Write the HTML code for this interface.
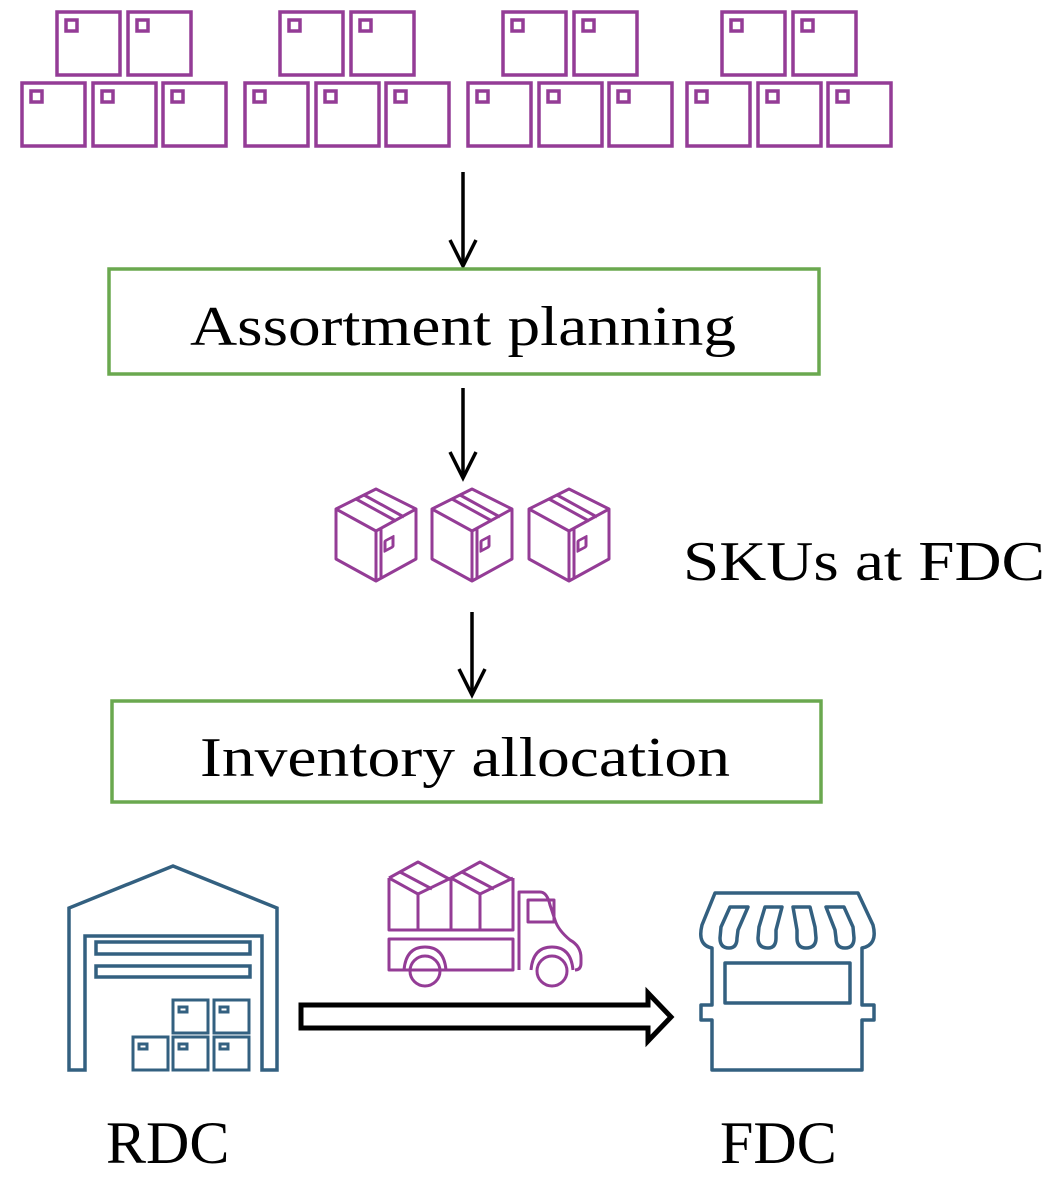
<!DOCTYPE html>
<html><head><meta charset="utf-8"><style>
html,body{margin:0;padding:0;background:#fff;}
svg{display:block;}
text{font-family:"Liberation Serif",serif;fill:#000;}
</style></head><body>
<svg width="1056" height="1184" viewBox="0 0 1056 1184" xmlns="http://www.w3.org/2000/svg">
<defs>
<g id="pb" fill="none" stroke="#943c96" stroke-width="3.5">
  <rect x="0" y="0" width="63" height="63"/>
  <rect x="9" y="8" width="11" height="11"/>
</g>
<g id="grp">
  <use href="#pb" x="57" y="12"/>
  <use href="#pb" x="128" y="12"/>
  <use href="#pb" x="22" y="83"/>
  <use href="#pb" x="93" y="83"/>
  <use href="#pb" x="163" y="83"/>
</g>
<g id="cube" fill="none" stroke="#943c96" stroke-width="3" stroke-linejoin="round">
  <path d="M0,20 L40,0 L80,20 L80,70 L40,92 L0,70 Z"/>
  <path d="M0,20 L40,42 L80,20"/>
  <path d="M40,42 L40,92"/>
  <path d="M45,40 L45,90"/>
  <path d="M20,10 L60,32"/>
  <path d="M28,6 L68,28"/>
  <rect x="49" y="50" width="8" height="10" transform="skewY(-28) translate(0,28)"/>
</g>
<g id="wbox" fill="none" stroke="#336080" stroke-width="3">
  <rect x="0" y="0" width="35" height="33"/>
  <rect x="6" y="7" width="8" height="5"/>
</g>
</defs>

<use href="#grp" x="0" y="0"/>
<use href="#grp" x="223" y="0"/>
<use href="#grp" x="446" y="0"/>
<use href="#grp" x="665" y="0"/>

<g stroke="#000" stroke-width="3.5" fill="none">
  <line x1="463" y1="172" x2="463" y2="266"/>
  <path d="M450,240 L463,266 L476,240"/>
  <line x1="463" y1="388" x2="463" y2="478"/>
  <path d="M450,452 L463,478 L476,452"/>
  <line x1="472" y1="612" x2="472" y2="695"/>
  <path d="M459,669 L472,695 L485,669"/>
</g>

<rect x="109" y="269" width="710" height="105" fill="none" stroke="#6aa84f" stroke-width="3.5"/>
<text x="190" y="345" font-size="56" textLength="546" lengthAdjust="spacingAndGlyphs">Assortment planning</text>

<use href="#cube" x="336" y="489"/>
<use href="#cube" x="432" y="489"/>
<use href="#cube" x="529" y="489"/>
<text x="683" y="580" font-size="56" textLength="362" lengthAdjust="spacingAndGlyphs">SKUs at FDC</text>

<rect x="112" y="701" width="709" height="101" fill="none" stroke="#6aa84f" stroke-width="3.5"/>
<text x="200" y="776" font-size="56" textLength="530" lengthAdjust="spacingAndGlyphs">Inventory allocation</text>

<g fill="none" stroke="#336080" stroke-width="3.5">
  <path d="M69,1070 L69,908 L173,866 L277,908 L277,1070 L262,1070 L262,936 L85,936 L85,1070 Z"/>
  <rect x="96" y="942" width="154" height="12"/>
  <rect x="96" y="966" width="154" height="11"/>
</g>
<use href="#wbox" x="173" y="1000"/>
<use href="#wbox" x="214" y="1000"/>
<use href="#wbox" x="133" y="1037"/>
<use href="#wbox" x="173" y="1037"/>
<use href="#wbox" x="214" y="1037"/>

<path d="M301,1005 L648,1005 L648,993 L671,1017 L648,1041 L648,1028 L301,1028 Z" fill="#fff" stroke="#000" stroke-width="5"/>

<g fill="none" stroke="#943c96" stroke-width="3" stroke-linejoin="round">
  <path d="M389,878 L389,930 L513,930 L513,878"/>
  <path d="M389,878 L418,862 L451,880 L451,930"/>
  <path d="M389,878 L418,894 L418,930"/>
  <path d="M418,894 L451,878"/>
  <path d="M451,878 L480,862 L513,880"/>
  <path d="M451,878 L480,894 L480,930"/>
  <path d="M480,894 L513,878"/>
  <path d="M400,872 L432,889"/><path d="M462,872 L494,889"/>
  <rect x="389" y="939" width="124" height="31"/>
  <path d="M519,970 L519,892 L540,892 Q547,892 550,905 L555,920 Q558,930 570,940 Q581,946 581,958 L581,963 Q581,970 575,970"/>
  <rect x="528" y="900" width="26" height="22"/>
  <circle cx="425" cy="971" r="15"/>
  <circle cx="552" cy="971" r="15"/>
  <path d="M404,970 Q406,947 425,947 Q444,947 446,970"/>
  <path d="M531,970 Q533,947 552,947 Q571,947 573,970"/>
</g>

<g fill="none" stroke="#336080" stroke-width="3.5" stroke-linejoin="round">
  <path d="M715,893 L858,893 L873,925 Q878,945 862,948 L862,1005 L874,1005 L874,1020 L862,1020 L862,1070 L712,1070 L712,1020 L701,1020 L701,1005 L712,1005 L712,948 Q697,945 702,925 Z"/>
  <path d="M730,907 L748,907 L738,930 L737,938 Q737,948 729,948 Q720,948 720,938 L721,927 Z"/>
  <path d="M765,907 L782,907 L776,930 L776,938 Q776,948 768,948 Q758,948 758,938 L759,927 Z"/>
  <path d="M793,907 L810,907 L815,927 L816,938 Q816,948 806,948 Q797,948 797,938 L797,930 Z"/>
  <path d="M826,907 L844,907 L853,927 L854,938 Q854,948 845,948 Q836,948 836,938 L835,930 Z"/>
  <rect x="725" y="963" width="125" height="40"/>
</g>

<text x="106" y="1163" font-size="60">RDC</text>
<text x="720" y="1163" font-size="60">FDC</text>
</svg>
</body></html>
